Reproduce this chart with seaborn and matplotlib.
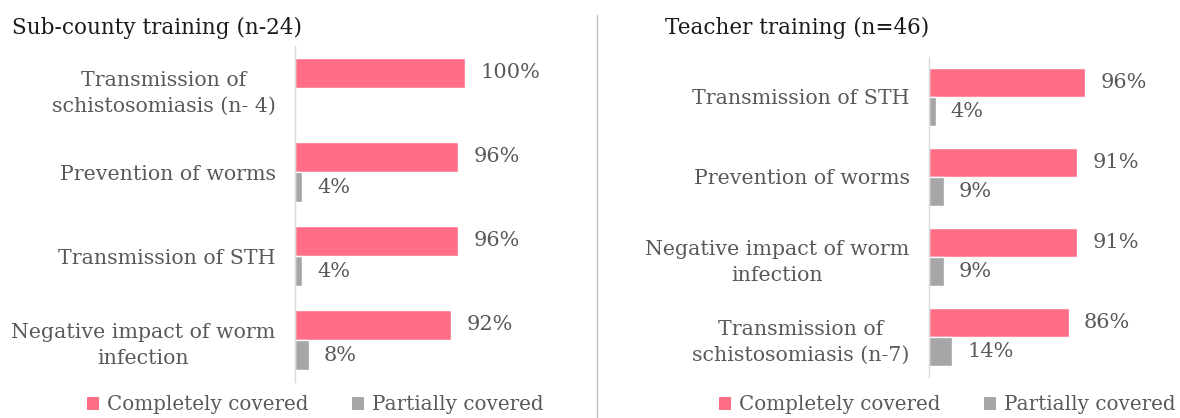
import pandas as pd
import matplotlib.pyplot as plt
import seaborn as sns
from matplotlib.patches import Patch
from matplotlib.lines import Line2D

# Data
left_topics = ['Transmission of\nschistosomiasis (n- 4)', 'Prevention of worms',
               'Transmission of STH', 'Negative impact of worm\ninfection']
left_complete = [100, 96, 96, 92]
left_partial = [0, 4, 4, 8]

right_topics = ['Transmission of STH', 'Prevention of worms',
                'Negative impact of worm\ninfection', 'Transmission of\nschistosomiasis (n-7)']
right_complete = [96, 91, 91, 86]
right_partial = [4, 9, 9, 14]

series_names = ['Completely covered', 'Partially covered']
colors = ['#FF6E86', '#A6A6A6']

sns.set_style('white')
plt.rcParams['font.family'] = ['DejaVu Serif']
txt_color = '#595959'


def make_df(topics, complete, partial):
    df = pd.DataFrame({'topic': topics, series_names[0]: complete, series_names[1]: partial})
    return df.melt(id_vars='topic', var_name='coverage', value_name='pct')


fig = plt.figure(figsize=(11.8, 4.18), dpi=100)
W, H = 1180, 418


def px_axes(x0, y_top, w, h):
    return fig.add_axes([x0 / W, 1 - (y_top + h) / H, w / W, h / H])


def draw_panel(ax, topics, complete, partial, px_per_100, width_px):
    df = make_df(topics, complete, partial)
    sns.barplot(data=df, x='pct', y='topic', hue='coverage', hue_order=series_names,
                palette=colors, orient='h', width=0.72, ax=ax, legend=False,
                saturation=1, errorbar=None)
    ax.set_xlim(0, width_px / px_per_100 * 100)
    ax.set_xlabel('')
    ax.set_ylabel('')
    ax.set_xticks([])
    for s in ['top', 'right', 'bottom']:
        ax.spines[s].set_visible(False)
    ax.spines['left'].set_color('#D9D9D9')
    ax.spines['left'].set_linewidth(1)
    ax.tick_params(axis='y', length=0, pad=14, labelsize=14.8, labelcolor=txt_color)
    for lab in ax.get_yticklabels():
        lab.set_multialignment('center')
        lab.set_linespacing(1.45)
    for cont, vals in zip(ax.containers, [complete, partial]):
        labels = [f'{v}%' if v > 0 else '' for v in vals]
        ax.bar_label(cont, labels=labels, padding=11, fontsize=15, color=txt_color)


ax1 = px_axes(295, 46, 250, 336)
draw_panel(ax1, left_topics, left_complete, left_partial, 170, 250)

ax2 = px_axes(929, 57, 240, 320)
draw_panel(ax2, right_topics, right_complete, right_partial, 162.5, 240)

fig.text(12 / W, 1 - 28 / H, 'Sub-county training (n-24)', fontsize=15.5,
         color='#1a1a1a', va='center', ha='left')
fig.text(665 / W, 1 - 28 / H, 'Teacher training (n=46)', fontsize=15.5,
         color='#1a1a1a', va='center', ha='left')

# divider between panels
fig.add_artist(Line2D([597 / W, 597 / W], [0, 1 - 15 / H], color='#BFBFBF', lw=1))

handles = [Patch(facecolor=c, edgecolor='none', label=n) for c, n in zip(colors, series_names)]
for cx in [315 / W, 947 / W]:
    fig.legend(handles=handles, loc='center', bbox_to_anchor=(cx, 1 - 405 / H), ncol=2,
               frameon=False, fontsize=14.3, handlelength=0.6, handleheight=0.6,
               handletextpad=0.4, columnspacing=2.2, labelcolor=txt_color)

fig.savefig('out.png', dpi=100)
